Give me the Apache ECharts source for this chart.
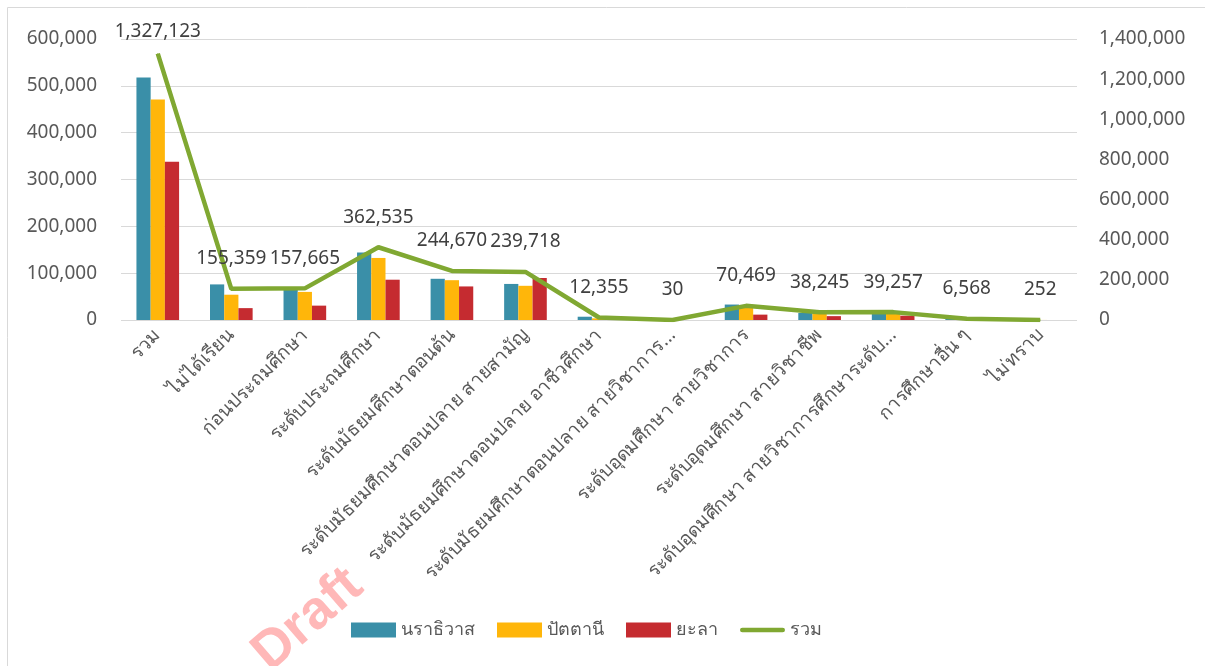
<!DOCTYPE html>
<html>
<head>
<meta charset="utf-8">
<script src="https://cdn.jsdelivr.net/npm/echarts@6/dist/echarts.min.js"></script>
<style>
  html, body { margin: 0; padding: 0; background: #fff; }
  #main { width: 1205px; height: 666px; }
</style>
</head>
<body>
<div id="main"></div>
<script>
// categories as shown on the axis
var categories = [
  "รวม",
  "ไม่ได้เรียน",
  "ก่อนประถมศึกษา",
  "ระดับประถมศึกษา",
  "ระดับมัธยมศึกษาตอนต้น",
  "ระดับมัธยมศึกษาตอนปลาย สายสามัญ",
  "ระดับมัธยมศึกษาตอนปลาย อาชีวศึกษา",
  "ระดับมัธยมศึกษาตอนปลาย สายวิชาการ...",
  "ระดับอุดมศึกษา สายวิชาการ",
  "ระดับอุดมศึกษา สายวิชาชีพ",
  "ระดับอุดมศึกษา สายวิชาการศึกษาระดับ...",
  "การศึกษาอื่น ๆ",
  "ไม่ทราบ"
];
var narathiwat = [518000, 76000, 67000, 144000, 88000, 77000, 7000, 15, 33000, 15000, 15000, 3000, 120];
var pattani    = [471000, 54000, 60000, 132500, 85000, 73000, 3500, 10, 26000, 15000, 15000, 2500, 90];
var yala       = [338123, 25359, 30665, 86035, 71670, 89718, 1855, 5, 11469, 8245, 9257, 1068, 42];
var total      = [1327123, 155359, 157665, 362535, 244670, 239718, 12355, 30, 70469, 38245, 39257, 6568, 252];

var textColor = "#595959";
var font = "'Noto Sans', 'DejaVu Sans', sans-serif";
function fmt(v) { return v.toLocaleString("en-US"); }

// thick rounded line for the legend; tiny corner specks fix the icon box to 48x15
var lineIcon = "path://M0,0 L0.01,0 L0,0.01 Z M48,15 L47.99,15 L48,14.99 Z " +
  "M2.5,5 L45.5,5 A2.5,2.5 0 0 1 45.5,10 L2.5,10 A2.5,2.5 0 0 1 2.5,5 Z";

var myChart = echarts.init(document.getElementById("main"));
var option = {
  animation: false,
  textStyle: { fontFamily: font },
  grid: { left: 121, right: 128, top: 39, bottom: 346 },
  legend: {
    bottom: 22,
    left: 346,
    itemWidth: 45,
    itemHeight: 15,
    itemGap: 22,
    textStyle: { fontSize: 18, color: textColor, fontFamily: font },
    data: [
      { name: "นราธิวาส", icon: "rect" },
      { name: "ปัตตานี", icon: "rect" },
      { name: "ยะลา", icon: "rect" },
      { name: "รวม", icon: lineIcon }
    ]
  },
  xAxis: {
    type: "category",
    data: categories,
    axisLine: { show: false },
    axisTick: { show: false },
    axisLabel: { rotate: 45, interval: 0, fontSize: 19, color: textColor, margin: 12 }
  },
  yAxis: [
    {
      type: "value",
      min: 0, max: 600000, interval: 100000,
      axisLabel: { fontSize: 19, color: textColor, formatter: fmt, margin: 24 },
      splitLine: { lineStyle: { color: "#d9d9d9", width: 1 } }
    },
    {
      type: "value",
      min: 0, max: 1400000, interval: 200000,
      axisLabel: { fontSize: 19, color: textColor, formatter: fmt, margin: 22 },
      splitLine: { show: false }
    }
  ],
  series: [
    { name: "นราธิวาส", type: "bar", data: narathiwat, barGap: "0%", barCategoryGap: "42%", itemStyle: { color: "#3A8FA8" } },
    { name: "ปัตตานี", type: "bar", data: pattani, itemStyle: { color: "#FFB60A" } },
    { name: "ยะลา", type: "bar", data: yala, itemStyle: { color: "#C52B30" } },
    {
      name: "รวม", type: "line", yAxisIndex: 1, data: total,
      symbol: "circle", symbolSize: 1, showSymbol: true,
      lineStyle: { color: "#80A832", width: 4.5 },
      itemStyle: { color: "#80A832" },
      labelLayout: function (p) {
        // first label sits a little lower, just under the frame top
        return p.dataIndex === 0 ? { dy: 8, hideOverlap: false } : { hideOverlap: false };
      },
      label: { show: true, position: "top", distance: 20, fontSize: 19, color: "#404040", formatter: function (p) { return fmt(p.value); } }
    }
  ],
  graphic: [
    {
      type: "rect", silent: true,
      shape: { x: 7.5, y: 7.5, width: 1200, height: 670 },
      style: { fill: null, stroke: "#d9d9d9", lineWidth: 1 }
    },
    {
      type: "text", silent: true, z: -1,
      x: 308, y: 620, rotation: Math.PI / 4.4,
      style: { text: "Draft", fontSize: 54, fontWeight: "bold", fill: "#FFB8B8", align: "center", verticalAlign: "middle", fontFamily: "'Liberation Sans', Arial, sans-serif" }
    }
  ]
};
myChart.setOption(option);
</script>
</body>
</html>
